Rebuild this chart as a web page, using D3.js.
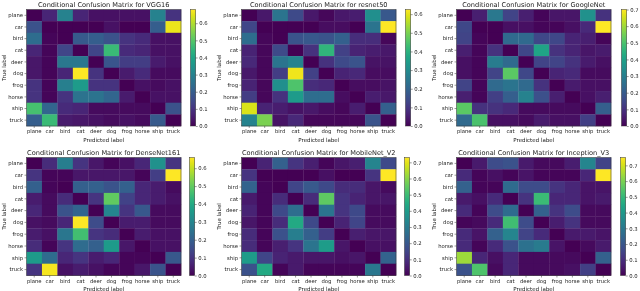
<!DOCTYPE html>
<html><head><meta charset="utf-8">
<script src="https://cdn.jsdelivr.net/npm/d3@7"></script>
<style>body{margin:0;background:#fff}svg{display:block;will-change:transform}text{font-family:"DejaVu Sans",sans-serif}</style>
</head><body><svg id="c" width="640" height="291"></svg>
<script>
const classes = ["plane","car","bird","cat","deer","dog","frog","horse","ship","truck"];
const modelNames = ["VGG16","resnet50","GoogleNet","DenseNet161","MobileNet_V2","Inception_V3"];
const cbarTicks = [0,0.1,0.2,0.3,0.4,0.5,0.6,0.7];

const vgg16 = [
 [0,0.07,0.30,0.07,0.03,0.03,0.03,0.03,0.30,0.10],
 [0.17,0,0,0,0,0.03,0,0,0.20,0.66],
 [0.24,0.01,0,0.19,0.20,0.17,0.10,0.08,0.03,0.03],
 [0.07,0.01,0.14,0,0.14,0.46,0.08,0.07,0.03,0.03],
 [0.04,0.01,0.27,0.27,0,0.18,0.12,0.12,0.05,0.03],
 [0.04,0.01,0.07,0.68,0.10,0,0.05,0.08,0.02,0.02],
 [0.10,0.01,0.29,0.37,0.10,0.10,0,0.03,0.02,0.03],
 [0.10,0.01,0.10,0.26,0.26,0.22,0.05,0,0.03,0.03],
 [0.48,0.22,0.08,0.07,0.02,0.02,0.02,0.02,0,0.17],
 [0.20,0.46,0.05,0.04,0.03,0.02,0.03,0.02,0.19,0]
];
const resnet50 = [
 [0,0.04,0.24,0.14,0.04,0.01,0.04,0.05,0.31,0.17],
 [0.13,0,0,0,0,0.02,0.02,0,0.24,0.625],
 [0.22,0.01,0,0.16,0.17,0.16,0.19,0.08,0.08,0.01],
 [0.06,0.01,0.14,0,0.09,0.41,0.12,0.06,0.05,0.04],
 [0.07,0.01,0.24,0.28,0,0.09,0.14,0.16,0.03,0.03],
 [0.04,0.01,0.11,0.61,0.12,0,0.06,0.07,0.02,0.02],
 [0.06,0.01,0.31,0.45,0.08,0.07,0,0.02,0.02,0.03],
 [0.11,0.01,0.09,0.34,0.22,0.22,0.02,0,0.05,0.04],
 [0.59,0.06,0.05,0.03,0.04,0.02,0.01,0.05,0,0.19],
 [0.28,0.50,0.03,0.07,0.01,0.01,0.01,0.01,0.16,0]
];
const googlenet = [
 [0,0.06,0.28,0.14,0.06,0.01,0.04,0.04,0.35,0.10],
 [0.15,0,0,0.03,0.03,0.01,0.01,0.03,0.08,0.70],
 [0.14,0.01,0,0.24,0.24,0.15,0.15,0.07,0.06,0.01],
 [0.06,0.01,0.10,0,0.15,0.41,0.10,0.07,0.04,0.05],
 [0.03,0.01,0.29,0.24,0,0.14,0.14,0.10,0.05,0.03],
 [0.03,0.01,0.14,0.52,0.15,0,0.07,0.08,0.02,0.02],
 [0.14,0.01,0.24,0.27,0.24,0.10,0,0.05,0.03,0.03],
 [0.06,0.01,0.13,0.21,0.31,0.17,0.06,0,0.03,0.06],
 [0.52,0.10,0.10,0.08,0.02,0.02,0.02,0.02,0,0.21],
 [0.24,0.50,0.03,0.03,0.02,0.05,0.03,0.03,0.13,0]
];
const densenet161 = [
 [0,0.08,0.28,0.10,0.04,0.01,0.03,0.07,0.33,0.10],
 [0.10,0.01,0.01,0.04,0.04,0.04,0.04,0.01,0.12,0.66],
 [0.20,0.01,0,0.20,0.20,0.17,0.20,0.07,0.05,0.02],
 [0.05,0.02,0.08,0,0.10,0.50,0.13,0.07,0.05,0.03],
 [0.07,0.02,0.17,0.21,0,0.30,0.10,0.18,0.02,0.02],
 [0.03,0.02,0.07,0.66,0.15,0,0.05,0.05,0.02,0.02],
 [0.05,0.03,0.26,0.46,0.10,0.08,0,0.05,0.03,0.03],
 [0.08,0.01,0.10,0.23,0.20,0.36,0.04,0,0.03,0.03],
 [0.36,0.23,0.07,0.10,0.05,0.07,0.01,0.01,0,0.18],
 [0.10,0.65,0.03,0.05,0.03,0.01,0.01,0.04,0.17,0]
];
const mobilenetV2 = [
 [0,0.07,0.22,0.11,0.06,0.01,0.04,0.06,0.33,0.16],
 [0.11,0,0,0,0,0.03,0,0,0.11,0.73],
 [0.23,0.01,0,0.15,0.20,0.16,0.09,0.09,0.04,0.02],
 [0.05,0.01,0.09,0,0.09,0.55,0.11,0.07,0.04,0.04],
 [0.07,0.01,0.16,0.26,0,0.28,0.11,0.16,0.02,0.02],
 [0.04,0.01,0.09,0.44,0.16,0,0.07,0.15,0.02,0.02],
 [0.09,0.01,0.18,0.31,0.22,0.13,0,0.06,0.04,0.04],
 [0.09,0.01,0.06,0.11,0.28,0.40,0.04,0,0.03,0.03],
 [0.40,0.15,0.07,0.05,0.04,0.04,0.03,0.04,0,0.23],
 [0.18,0.44,0.01,0.05,0.01,0.01,0.01,0.01,0.29,0]
];
const inceptionV3 = [
 [0,0.05,0.17,0.19,0.05,0.02,0.02,0.06,0.34,0.15],
 [0.09,0.01,0.03,0.01,0.04,0.01,0.01,0.01,0.08,0.75],
 [0.23,0.01,0.01,0.26,0.17,0.17,0.11,0.08,0.04,0.04],
 [0.05,0.03,0.09,0,0.11,0.51,0.08,0.08,0.04,0.05],
 [0.09,0.01,0.17,0.26,0,0.23,0.11,0.17,0.02,0.02],
 [0.01,0.02,0.09,0.52,0.17,0,0.06,0.11,0.02,0.02],
 [0.09,0.04,0.23,0.34,0.15,0.09,0,0.05,0.05,0.04],
 [0.09,0.01,0.09,0.19,0.28,0.31,0.04,0,0.02,0.05],
 [0.64,0.08,0.03,0.08,0.02,0.02,0.02,0.02,0,0.23],
 [0.19,0.54,0.02,0.08,0.02,0.02,0.02,0.03,0.14,0]
];
const matrices = [vgg16, resnet50, googlenet, densenet161, mobilenetV2, inceptionV3];

const svg = d3.select("#c");
const panels = [
 {x0:26.5, cbx:190.5, y0:9.5, y1:126},
 {x0:241.5, cbx:405.5, y0:9.5, y1:126},
 {x0:456.5, cbx:621.5, y0:9.5, y1:126},
 {x0:26.5, cbx:189.5, y0:157.5, y1:275.5},
 {x0:241.5, cbx:404.5, y0:157.5, y1:275.5},
 {x0:456.5, cbx:620.5, y0:157.5, y1:275.5}
];
const hmW = 154.5, cbW = 5.2;
const ink = "#222";

matrices.forEach((m, i) => {
  const p = panels[i];
  const vmax = d3.max(m.flat()), vmin = d3.min(m.flat());
  const color = d3.scaleSequential(d3.interpolateViridis).domain([vmin, vmax]);
  const x = d3.scaleBand().domain(classes).range([p.x0, p.x0 + hmW]);
  const y = d3.scaleBand().domain(classes).range([p.y0, p.y1]);
  const g = svg.append("g");
  const cells = [];
  m.forEach((row, r) => row.forEach((v, c) => cells.push({r: classes[r], c: classes[c], v})));
  g.selectAll("rect.cell").data(cells).join("rect")
    .attr("x", d => x(d.c)).attr("y", d => y(d.r))
    .attr("width", x.bandwidth() + 0.3).attr("height", y.bandwidth() + 0.3)
    .attr("fill", d => color(d.v));
  g.append("rect").attr("x", p.x0).attr("y", p.y0).attr("width", hmW).attr("height", p.y1 - p.y0)
    .attr("fill", "none").attr("stroke", "#333").attr("stroke-width", 0.5);

  const xa = g.append("g").attr("transform", `translate(0,${p.y1})`)
    .call(d3.axisBottom(x).tickSize(2).tickPadding(1.5));
  const ya = g.append("g").attr("transform", `translate(${p.x0},0)`)
    .call(d3.axisLeft(y).tickSize(2).tickPadding(1.5));
  [xa, ya].forEach(a => {
    a.select(".domain").remove();
    a.selectAll("line").attr("stroke", "#333").attr("stroke-width", 0.5);
    a.selectAll("text").attr("font-size", 5.3).attr("fill", ink).style("font-family", '"DejaVu Sans",sans-serif');
  });

  g.append("text").attr("x", p.x0 + hmW / 2).attr("y", p.y0 - 2.5).attr("text-anchor", "middle")
    .attr("font-size", 6.6).attr("fill", ink).text("Conditional Confusion Matrix for " + modelNames[i]);
  g.append("text").attr("x", p.x0 + hmW / 2).attr("y", p.y1 + 15.5).attr("text-anchor", "middle")
    .attr("font-size", 5.5).attr("fill", ink).text("Predicted label");
  g.append("text").attr("transform", `translate(${p.x0 - 21},${(p.y0 + p.y1) / 2}) rotate(-90)`)
    .attr("text-anchor", "middle").attr("font-size", 5.5).attr("fill", ink).text("True label");

  // colorbar
  const cs = d3.scaleLinear().domain([vmin, vmax]).range([p.y1, p.y0]);
  const gradId = "grad" + i;
  const grad = svg.append("defs").append("linearGradient").attr("id", gradId)
    .attr("x1", 0).attr("x2", 0).attr("y1", 1).attr("y2", 0);
  d3.range(0, 1.0001, 0.05).forEach(t => grad.append("stop").attr("offset", t).attr("stop-color", d3.interpolateViridis(t)));
  g.append("rect").attr("x", p.cbx).attr("y", p.y0).attr("width", cbW).attr("height", p.y1 - p.y0)
    .attr("fill", `url(#${gradId})`).attr("stroke", "#333").attr("stroke-width", 0.5);
  const ca = g.append("g").attr("transform", `translate(${p.cbx + cbW},0)`)
    .call(d3.axisRight(cs).tickValues(cbarTicks.filter(t => t <= vmax + 1e-9)).tickFormat(d3.format(".1f")).tickSize(2).tickPadding(1.5));
  ca.select(".domain").remove();
  ca.selectAll("line").attr("stroke", "#333").attr("stroke-width", 0.5);
  ca.selectAll("text").attr("font-size", 5.3).attr("fill", ink).style("font-family", '"DejaVu Sans",sans-serif');
});
</script></body></html>
